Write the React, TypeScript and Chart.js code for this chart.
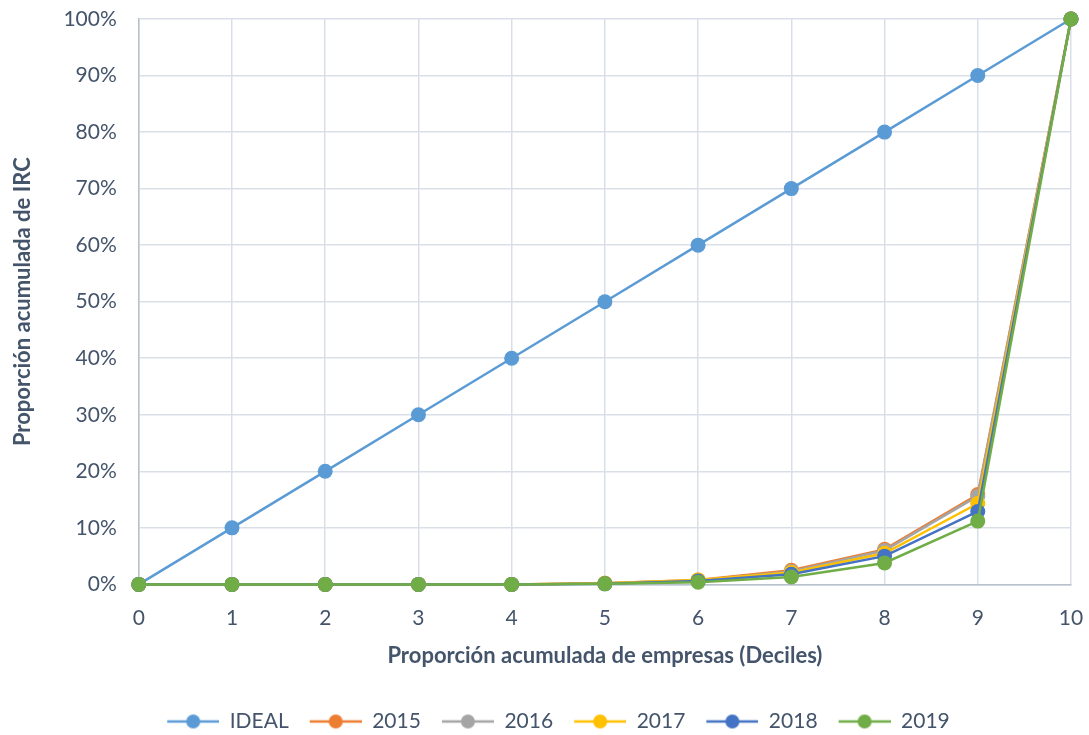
import React, { useEffect, useRef } from "react";
import { Chart, registerables } from "chart.js";

Chart.register(...registerables);

const deciles = [0, 1, 2, 3, 4, 5, 6, 7, 8, 9, 10];
const ideal = [0, 0.1, 0.2, 0.3, 0.4, 0.5, 0.6, 0.7, 0.8, 0.9, 1.0];
const y2015 = [0, 0, 0, 0, 0, 0.002, 0.008, 0.025, 0.062, 0.159, 1.0];
const y2016 = [0, 0, 0, 0, 0, 0.002, 0.007, 0.023, 0.060, 0.156, 1.0];
const y2017 = [0, 0, 0, 0, 0, 0.002, 0.008, 0.021, 0.055, 0.143, 1.0];
const y2018 = [0, 0, 0, 0, 0, 0.001, 0.006, 0.018, 0.050, 0.129, 1.0];
const y2019 = [0, 0, 0, 0, 0, 0.001, 0.004, 0.013, 0.038, 0.112, 1.0];

const seriesNames = ["IDEAL", "2015", "2016", "2017", "2018", "2019"];
const seriesValues = [ideal, y2015, y2016, y2017, y2018, y2019];
const seriesColors = ["#5B9BD5", "#ED7D31", "#A5A5A5", "#FFC000", "#4472C4", "#70AD47"];

const FONT = "Lato, 'Open Sans', sans-serif";
const TEXT = "#44546A";
const GRID = "#DADFE7";
const AXIS = "#B8C0CB";
const ICON_MARGIN = 18;
const ICON_LINE = 52;

function legendIcon(color: string): HTMLCanvasElement {
  const c = document.createElement("canvas");
  c.width = ICON_MARGIN + ICON_LINE;
  c.height = 16;
  const ctx = c.getContext("2d")!;
  ctx.strokeStyle = color;
  ctx.lineWidth = 2.5;
  ctx.beginPath();
  ctx.moveTo(ICON_MARGIN, 8);
  ctx.lineTo(ICON_MARGIN + ICON_LINE, 8);
  ctx.stroke();
  ctx.fillStyle = color;
  ctx.beginPath();
  ctx.arc(ICON_MARGIN + ICON_LINE / 2, 8, 7, 0, Math.PI * 2);
  ctx.fill();
  return c;
}

export default function App() {
  const ref = useRef<HTMLCanvasElement | null>(null);
  useEffect(() => {
    if (!ref.current) return;
    const icons = seriesColors.map(legendIcon);
    const chart = new Chart(ref.current, {
      type: "line",
      data: {
        datasets: seriesNames.map((name, i) => ({
          label: name,
          data: deciles.map((d, j) => ({ x: d, y: seriesValues[i][j] })),
          borderColor: seriesColors[i],
          backgroundColor: seriesColors[i],
          borderWidth: 2.5,
          pointRadius: 7.5,
          pointHoverRadius: 7.5,
          pointBorderWidth: 0,
          tension: 0,
          clip: false,
          order: seriesNames.length - i,
        })),
      },
      options: {
        animation: false,
        responsive: true,
        maintainAspectRatio: false,
        layout: { autoPadding: false, padding: { left: 10, right: 0, top: 0, bottom: -7 } },
        plugins: {
          tooltip: { enabled: false },
          legend: {
            position: "bottom",
            labels: {
              usePointStyle: true,
              pointStyleWidth: ICON_MARGIN + ICON_LINE,
              padding: 3,
              color: TEXT,
              font: { family: FONT, size: 21 },
              generateLabels: (ch: any) =>
                ch.data.datasets.map((ds: any, i: number) => ({
                  text: ds.label,
                  pointStyle: icons[i],
                  fillStyle: seriesColors[i],
                  strokeStyle: seriesColors[i],
                  lineWidth: 0,
                  hidden: false,
                  datasetIndex: i,
                  fontColor: TEXT,
                })),
            },
          },
        },
        scales: {
          x: {
            type: "linear",
            min: 0,
            max: 10,
            afterFit: (s: any) => {
              s.paddingRight = 18;
            },
            ticks: { stepSize: 1, color: TEXT, font: { family: FONT, size: 21 }, padding: 21 },
            grid: { color: GRID, lineWidth: 1.5, drawTicks: false },
            border: { color: AXIS, width: 1.5 },
            title: {
              display: true,
              text: "Proporción acumulada de empresas (Deciles)",
              color: TEXT,
              font: { family: FONT, size: 22, weight: "bold" },
              padding: { top: -9, bottom: 39 },
            },
          },
          y: {
            min: 0,
            max: 1,
            afterFit: (s: any) => {
              s.paddingTop = 19;
            },
            ticks: {
              stepSize: 0.1,
              color: TEXT,
              font: { family: FONT, size: 21 },
              padding: 22,
              callback: (v: any) => Math.round(Number(v) * 100) + "%",
            },
            grid: { color: GRID, lineWidth: 1.5, drawTicks: false },
            border: { color: AXIS, width: 1.5 },
            title: {
              display: true,
              text: "Proporción acumulada de IRC",
              color: TEXT,
              font: { family: FONT, size: 22, weight: "bold" },
              padding: { top: 0, bottom: 5 },
            },
          },
        },
      },
    });
    return () => chart.destroy();
  }, []);
  return (
    <div style={{ position: "absolute", left: 0, top: 0, width: 1089, height: 735, background: "#fff" }}>
      <canvas ref={ref} />
    </div>
  );
}
